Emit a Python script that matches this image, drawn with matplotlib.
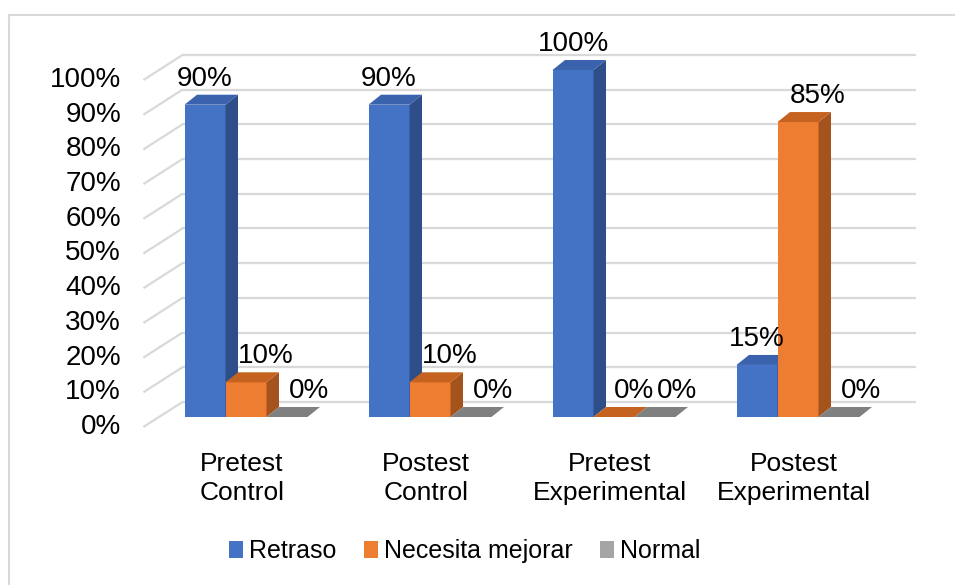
import matplotlib
matplotlib.use("Agg")
import matplotlib.pyplot as plt
from matplotlib.patches import Polygon, Rectangle, Patch
from matplotlib.lines import Line2D

# ---- data ----
categories = ["Pretest\nControl", "Postest\nControl", "Pretest\nExperimental", "Postest\nExperimental"]
series_names = ["Retraso", "Necesita mejorar", "Normal"]
retraso = [90, 90, 100, 15]
necesita_mejorar = [10, 10, 0, 85]
normal = [0, 0, 0, 0]
y_ticks = [0, 10, 20, 30, 40, 50, 60, 70, 80, 90, 100]

series = [retraso, necesita_mejorar, normal]
front_colors = ["#4472C4", "#ED7D31", "#A5A5A5"]
top_colors = ["#3B63AD", "#C5621F", "#808080"]
side_colors = ["#2E4E8A", "#A4531C", "#6E6E6E"]

plt.rcParams["font.family"] = ["Liberation Sans", "DejaVu Sans"]

W, H, DPI = 955, 585, 100
fig = plt.figure(figsize=(W / DPI, H / DPI), dpi=DPI)
ax = fig.add_axes([0, 0, 1, 1])
ax.set_axis_off()

# pixel scale of the data space (x: category units, y: percent)
PX_X = 184.0
PX_Y = 3.47
X0_PX, Y0_PX = 246.0, 417.0  # pixel of (0, 0) measured from the top-left
ax.set_xlim(-X0_PX / PX_X, (W - X0_PX) / PX_X)
ax.set_ylim(-(H - Y0_PX) / PX_Y, Y0_PX / PX_Y)


def px_dx(p):
    return p / PX_X


def px_dy(p):
    return p / PX_Y


FS = 20

# wall depth relative to the bar plane
front_dx, front_dy = px_dx(-15.6), px_dy(-10)
back_dx, back_dy = px_dx(23.4), px_dy(15)
wall_left = px_dx(159 - X0_PX)
wall_right = px_dx(916 - X0_PX) - back_dx

grid_color = "#D9D9D9"
for v in y_ticks:
    ax.plot([wall_left + front_dx, wall_left + back_dx], [v + front_dy, v + back_dy],
            color=grid_color, lw=1.6, solid_capstyle="butt", zorder=1)
    ax.plot([wall_left + back_dx, wall_right + back_dx], [v + back_dy, v + back_dy],
            color=grid_color, lw=1.6, solid_capstyle="butt", zorder=1)
    ax.text(px_dx(121 - X0_PX), v + front_dy, f"{v}%", ha="right", va="center",
            fontsize=FS, color="#000000")

# bars with oblique depth faces
bar_w = px_dx(41)
depth_dx, depth_dy = px_dx(12.5), px_dy(10)
label_shift = [px_dx(0), px_dx(20), px_dx(22)]
z = 2
for i in range(len(categories)):
    for s, vals in enumerate(series):
        v = vals[i]
        x0 = i - 1.5 * bar_w + s * bar_w
        x1 = x0 + bar_w
        ax.add_patch(Rectangle((x0, 0), bar_w, v, facecolor=front_colors[s],
                               edgecolor="none", zorder=z))
        ax.add_patch(Polygon([(x1, 0), (x1, v), (x1 + depth_dx, v + depth_dy),
                              (x1 + depth_dx, depth_dy)], closed=True,
                             facecolor=side_colors[s], edgecolor="none", zorder=z))
        ax.add_patch(Polygon([(x0, v), (x1, v), (x1 + depth_dx, v + depth_dy),
                              (x0 + depth_dx, v + depth_dy)], closed=True,
                             facecolor=top_colors[s], edgecolor="none", zorder=z))
        z += 1
        ax.text((x0 + x1) / 2 + label_shift[s], v + depth_dy + px_dy(16), f"{v}%",
                ha="center", va="center", fontsize=FS, color="#000000", zorder=50)

# category labels on the front edge of the floor
for i, c in enumerate(categories):
    ax.text(i - px_dx(4), px_dy(-61.5), c, ha="center", va="center",
            fontsize=19, linespacing=1.24, color="#000000")

# legend
handles = [Patch(facecolor=front_colors[s], edgecolor="none") for s in range(3)]
fig.legend(handles, series_names, loc="center", bbox_to_anchor=(465 / W, 1 - 551 / H),
           ncol=3, frameon=False, fontsize=18, handlelength=0.55, handleheight=0.7,
           handletextpad=0.25, columnspacing=1.1, borderpad=0)

# chart area outline
fig.add_artist(Line2D([9 / W, 1], [1 - 15 / H, 1 - 15 / H], color="#D9D9D9", lw=1.5,
                      transform=fig.transFigure))
fig.add_artist(Line2D([9 / W, 9 / W], [0, 1 - 15 / H], color="#D9D9D9", lw=1.5,
                      transform=fig.transFigure))

fig.savefig("out.png", dpi=DPI, facecolor="white")
